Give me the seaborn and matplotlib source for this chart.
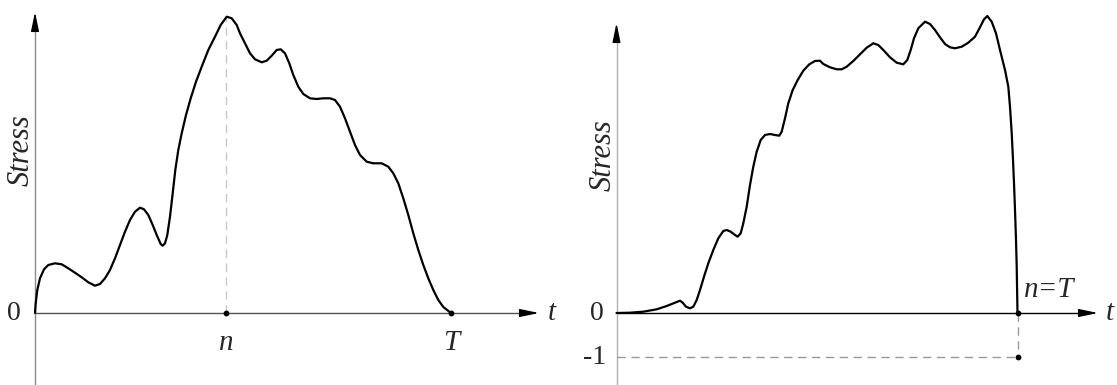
import matplotlib
matplotlib.use("Agg")
import matplotlib.pyplot as plt
import seaborn as sns
import pandas as pd

# left panel: stress rises to a peak at n, then falls back to zero at T
t_left = [0, 0.7, 2.3, 5, 9, 13.3, 20, 26.7, 33.3, 40, 46.7, 53.3, 60, 65, 70, 75,
          80, 85, 90, 95, 100, 105, 109, 113.3, 117.7, 121.7, 125.7, 127.7, 130,
          132.3, 135, 137.7, 140.3, 143.3, 146.7, 151, 155.7, 161, 166.7, 173.3,
          180, 185.7, 191.7, 196.7, 201.7, 205, 210, 215, 220, 226.7, 231.7, 236.7,
          241.7, 245.7, 250, 254.3, 258.3, 263.3, 268.3, 275, 281.7, 288.3, 295,
          300, 305, 310, 315, 320, 325, 331.7, 338.3, 346.7, 353.3, 358.3, 363.3,
          368.3, 373.3, 378.3, 383.3, 388.3, 393.3, 398.3, 403.3, 408.3, 416]
s_left = [0, 9.7, 23, 34.7, 43.7, 48, 49.7, 48.7, 44.7, 40.3, 35.7, 30.7, 27.3, 29,
          34.7, 43, 54.7, 68, 81.3, 93, 101.3, 105.3, 103.7, 98, 88, 78, 69, 67.3,
          69.7, 78, 96.3, 119.7, 143, 163, 179.7, 198, 214.7, 231.3, 246.3, 263,
          276.3, 288, 296.3, 294.7, 288, 279.7, 269.7, 259.7, 253.7, 250.7, 252.3,
          257.3, 263, 263.7, 259.7, 249.7, 238, 226.3, 219, 214.7, 214, 214.7,
          214.7, 213, 206.3, 194.7, 181.3, 168, 158, 151.3, 149.7, 149.7, 146.3,
          139.7, 129.7, 114.7, 98, 79.7, 63, 48, 34.7, 23, 13, 6, 0]
n_left = 191
T_left = 416

# right panel: stress builds up until failure at n=T
t_right = [0, 13.5, 26.8, 40.2, 50.2, 58.5, 63.5, 66.2, 69.5, 73.5, 76.8, 80.2,
           83.5, 87.5, 91.8, 96.8, 101.8, 106.8, 110.2, 114.2, 118.5, 121.2, 124.2,
           126.8, 130.2, 133.5, 136.8, 140.2, 144.2, 148.5, 153.5, 158.5, 162.8,
           165.2, 168.5, 171.8, 176.2, 181.2, 186.8, 192.8, 198.5, 203.5, 206.8,
           213.5, 220.2, 225.2, 230.2, 236.8, 243.5, 250.2, 256.8, 261.8, 266.8,
           273.5, 280.2, 286.8, 290.8, 294.2, 297.5, 301.8, 308.5, 313.5, 318.5,
           323.5, 328.5, 333.5, 338.5, 345.2, 351.8, 358.5, 363.5, 367.5, 370.8,
           375.2, 379.5, 383.5, 388.5, 391.8, 393.5, 395.2, 396.5, 397.5, 398.5,
           399.5, 400.2, 400.6, 401]
s_right = [0, 0.3, 1.3, 3.7, 7, 10.3, 12.3, 10.3, 6.3, 4.7, 6.3, 13,
           23, 36.3, 49.7, 63, 74.7, 82, 83, 81.3, 78, 76.3, 79.7,
           89.7, 106.3, 128, 146.3, 161.3, 173, 178, 179, 178, 177.3,
           181.3, 194.7, 209.7, 223, 233, 242.3, 248.7, 252, 252.3, 249,
           245.7, 243.7, 243.7, 246.3, 252, 258.7, 265.3, 269.7, 268, 263,
           255.7, 250.3, 248.7, 253, 263, 274.7, 284.7, 291.3, 289, 283,
           275.7, 269, 265.7, 264.7, 266.3, 270.3, 276.3, 285.7, 293.7, 297,
           291.3, 279.7, 263, 243, 226.3, 206.3, 180, 153.3, 130, 103.3,
           73.3, 46.7, 23.3, 0]
T_right = 401
minus_one = -44

left = pd.DataFrame({"t": t_left, "stress": s_left})
right = pd.DataFrame({"t": t_right, "stress": s_right})

sns.set_style("white")
SERIF = "Liberation Serif"
plt.rcParams["font.family"] = [SERIF, "DejaVu Serif"]

fig = plt.figure(figsize=(11.17, 3.85), dpi=100)
axL = fig.add_axes([0, 0, 558 / 1117, 1])
axR = fig.add_axes([558 / 1117, 0, 559 / 1117, 1])

arrow = dict(arrowstyle="-|>,head_length=1.15,head_width=0.24", color="black",
             lw=1.0, mutation_scale=10, shrinkA=0, shrinkB=0)
num_kw = dict(fontsize=20, family=SERIF, ha="center", va="center")
ital_kw = dict(fontsize=21, family=SERIF, style="italic", ha="center", va="center")


def axes_arrows(ax, x_end, y_end, y_bottom, xcol, ycol):
    ax.plot([0, x_end - 8], [0, 0], color=xcol, lw=1.0, zorder=1)
    ax.plot([0, 0], [y_bottom, y_end - 8], color=ycol, lw=1.0, zorder=1)
    ax.annotate("", xy=(x_end, 0), xytext=(x_end - 12, 0), arrowprops=arrow)
    ax.annotate("", xy=(0, y_end), xytext=(0, y_end - 12), arrowprops=arrow)


line_kw = dict(color="black", lw=1.6, sort=False, zorder=3)

# ---- left
ax = axL
ax.set_xlim(-35, 523)
ax.set_ylim(-72, 313)
ax.axis("off")
axes_arrows(ax, 504, 301, -72, "#555555", "#8a8a8a")
ax.plot([n_left, n_left], [0, max(s_left)], color="#c8c8c8", lw=1.0,
        dashes=(6, 4), zorder=1)
sns.lineplot(data=left, x="t", y="stress", ax=ax, **line_kw)
ax.scatter([n_left, T_left], [0, 0], s=10, color="black", zorder=4)
ax.text(-21, 0, "0", **num_kw)
ax.text(-14, 163, "Stress", rotation=90, **{**ital_kw, "fontsize": 22})
ax.text(n_left, -30, "n", **ital_kw)
ax.text(T_left, -30, "T", **ital_kw)
ax.text(517, 0, "t", **ital_kw)

# ---- right
ax = axR
ax.set_xlim(-58.5, 500.5)
ax.set_ylim(-72, 313)
ax.axis("off")
axes_arrows(ax, 481.5, 290, -72, "black", "#b0b0b0")
ax.plot([0, T_right], [minus_one, minus_one], color="#999999", lw=1.0,
        dashes=(6, 4), zorder=1)
ax.plot([T_right, T_right], [0, minus_one], color="#999999", lw=1.0,
        dashes=(6, 4), zorder=1)
sns.lineplot(data=right, x="t", y="stress", ax=ax, **line_kw)
ax.scatter([T_right, T_right], [0, minus_one], s=10, color="black", zorder=4)
ax.text(-19.5, 0, "0", **num_kw)
ax.text(-22, minus_one, "-1", **num_kw)
ax.text(-13.5, 158, "Stress", rotation=90, **{**ital_kw, "fontsize": 22})
ax.text(433, 23, "n=T", **ital_kw)
ax.text(493.5, 0, "t", **ital_kw)

fig.savefig("out.png", dpi=100)
